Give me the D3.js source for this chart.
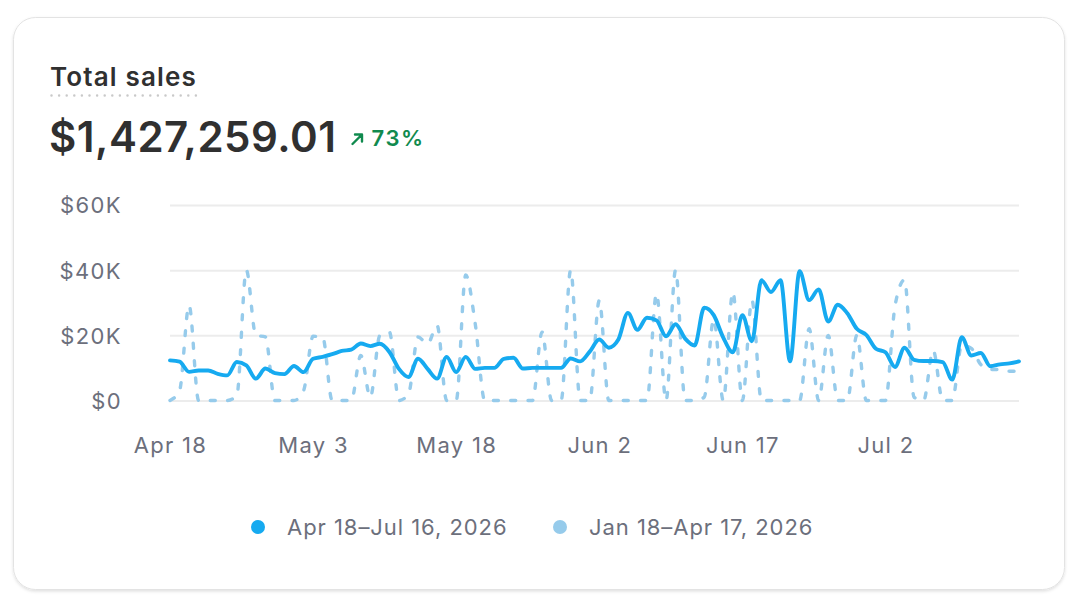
<!DOCTYPE html>
<html>
<head>
<meta charset="utf-8">
<script src="https://cdn.jsdelivr.net/npm/d3@7"></script>
<style>
  html, body { margin: 0; padding: 0; background: #ffffff; }
  svg { display: block; font-family: Inter, "Noto Sans", sans-serif; }
</style>
</head>
<body>
<svg id="chart" width="1078" height="606"></svg>
<script>
// ---- data (values in dollars) ----
const xTickIndex = [0, 15, 30, 45, 60, 75];
const xTickLabels = ["Apr 18", "May 3", "May 18", "Jun 2", "Jun 17", "Jul 2"];
const yTickValues = [0, 20000, 40000, 60000];
const yTickLabels = ["$0", "$20K", "$40K", "$60K"];
const seriesNames = ["Apr 18\u2013Jul 16, 2026", "Jan 18\u2013Apr 17, 2026"];
const currentK = [12.3, 11.9, 8.8, 9.2, 9.2, 8.2, 7.7, 11.8, 10.8, 6.7,
  9.8, 8.4, 8.1, 10.6, 8.7, 12.8, 13.4, 14.2, 15.2, 15.6,
  17.5, 16.7, 17.4, 14.9, 9.7, 7.2, 12.8, 9.7, 6.7, 13.4,
  8.7, 13.4, 9.7, 10.0, 10.0, 12.8, 13.1, 9.8, 10.0, 10.0,
  10.0, 10.0, 12.9, 12.0, 15.0, 18.7, 16.2, 18.7, 26.9, 21.7,
  25.4, 24.6, 19.7, 23.4, 19.0, 16.9, 28.5, 26.2, 19.3, 14.8,
  26.2, 18.2, 36.9, 33.3, 36.9, 12.0, 39.7, 30.8, 34.1, 24.2,
  29.4, 26.8, 22.0, 20.1, 15.9, 14.8, 10.3, 16.2, 12.5, 12.1,
  12.1, 11.8, 6.4, 19.4, 13.8, 14.6, 10.5, 11.1, 11.4, 12.0];
const previousK = [0, 3, 29.2, 0, 0, 0, 0, 1.5, 40, 20,
  19.5, 0, 0, 0, 3, 19.7, 19.5, 0, 0, 0,
  13.8, 1, 20, 21, 0, 2, 19.5, 17.4, 23, 0,
  0, 38.5, 23.5, 0, 0, 0, 0, 0, 0, 21,
  0, 0, 40, 0, 0, 30.7, 0, 0, 0, 0,
  0, 32.8, 0, 40, 0, 0, 1, 25, 0, 33.3,
  0, 30.8, 0, 0, 0, 0, 0, 22, 0, 20,
  0, 0, 20, 0, 0, 0, 29, 37, 1, 0,
  15.4, 0, 0, 17, 16, 11, 9.5, 9.5, 9, 9];
const totalLabel = "$1,427,259.01";
const changeLabel = "73%";
const titleLabel = "Total sales";

const current = currentK.map(v => v * 1000);
const previous = previousK.map(v => v * 1000);

// ---- layout ----
const svg = d3.select("#chart");
const C1 = "#16aaf0", C2 = "#96cbeb";
const GREY = "#6c6f7c";

const defs = svg.append("defs");
const f = defs.append("filter").attr("id", "sh").attr("x", "-5%").attr("y", "-5%").attr("width", "110%").attr("height", "115%");
f.append("feDropShadow").attr("dx", 0).attr("dy", 1.5).attr("stdDeviation", 1.5).attr("flood-color", "#000").attr("flood-opacity", 0.12);

svg.append("rect").attr("x", 13.5).attr("y", 17.5).attr("width", 1051).attr("height", 572)
  .attr("rx", 22).attr("fill", "#fff").attr("stroke", "#e3e3e3").attr("stroke-width", 1)
  .attr("filter", "url(#sh)");

// header
svg.append("text").attr("x", 50).attr("y", 85.5).text(titleLabel)
  .attr("font-size", 26).attr("font-weight", 600).attr("fill", "#303030").attr("letter-spacing", 1.15);
svg.append("line").attr("x1", 51.5).attr("x2", 196).attr("y1", 95.5).attr("y2", 95.5)
  .attr("stroke", "#c9c9c9").attr("stroke-width", 2.5).attr("stroke-linecap", "round")
  .attr("stroke-dasharray", "0 7.6");
svg.append("text").attr("x", 49).attr("y", 152).text(totalLabel)
  .attr("font-size", 42).attr("font-weight", 600).attr("fill", "#303030").attr("letter-spacing", 0.5);
const green = "#108a4e";
svg.append("path").attr("d", "M352.5,144 L361.5,135 M355,134.5 L362,134.5 L362,141.5")
  .attr("fill", "none").attr("stroke", green).attr("stroke-width", 2.4)
  .attr("stroke-linecap", "round").attr("stroke-linejoin", "round");
svg.append("text").attr("x", 371.5).attr("y", 146).text(changeLabel)
  .attr("font-size", 22).attr("font-weight", 600).attr("fill", green).attr("letter-spacing", 1.6);

// scales
const x = d3.scaleLinear().domain([0, current.length - 1]).range([170, 1019]);
const y = d3.scaleLinear().domain([0, 60000]).range([400.5, 205]);

// grid + y axis
const yAxis = svg.append("g").attr("transform", "translate(170,0)")
  .call(d3.axisLeft(y).tickValues(yTickValues).tickSize(-849)
    .tickFormat((d, i) => yTickLabels[i]).tickPadding(48));
yAxis.select(".domain").remove();
yAxis.selectAll("line").attr("stroke", "#ececec").attr("stroke-width", 2);
yAxis.selectAll("text").attr("font-size", 22).attr("fill", GREY).attr("letter-spacing", 1.4)
  .attr("font-family", "Inter, 'Noto Sans', sans-serif").attr("dy", "0.36em");

// x axis
const xAxis = svg.append("g").attr("transform", "translate(0,400)")
  .call(d3.axisBottom(x).tickValues(xTickIndex).tickSize(0)
    .tickFormat((d, i) => xTickLabels[i]).tickPadding(37));
xAxis.select(".domain").remove();
xAxis.selectAll("text").attr("font-size", 22).attr("fill", GREY).attr("letter-spacing", 1.3)
  .attr("font-family", "Inter, 'Noto Sans', sans-serif");

// lines
const line = d3.line().x((d, i) => x(i)).y(d => y(d)).curve(d3.curveMonotoneX);
svg.append("path").datum(previous).attr("d", line).attr("fill", "none")
  .attr("stroke", C2).attr("stroke-width", 3.4).attr("stroke-linecap", "round")
  .attr("stroke-dasharray", "5 12.3");
svg.append("path").datum(current).attr("d", line).attr("fill", "none")
  .attr("stroke", C1).attr("stroke-width", 3.9).attr("stroke-linecap", "round")
  .attr("stroke-linejoin", "round");

// legend
const legendX = [258, 560];
const legendColors = [C1, C2];
const lg = svg.append("g");
seriesNames.forEach((name, i) => {
  lg.append("circle").attr("cx", legendX[i]).attr("cy", 527).attr("r", 7).attr("fill", legendColors[i]);
  lg.append("text").attr("x", legendX[i] + 29).attr("y", 535).text(name)
    .attr("font-size", 22).attr("fill", GREY).attr("letter-spacing", 0.95);
});
</script>
</body>
</html>
